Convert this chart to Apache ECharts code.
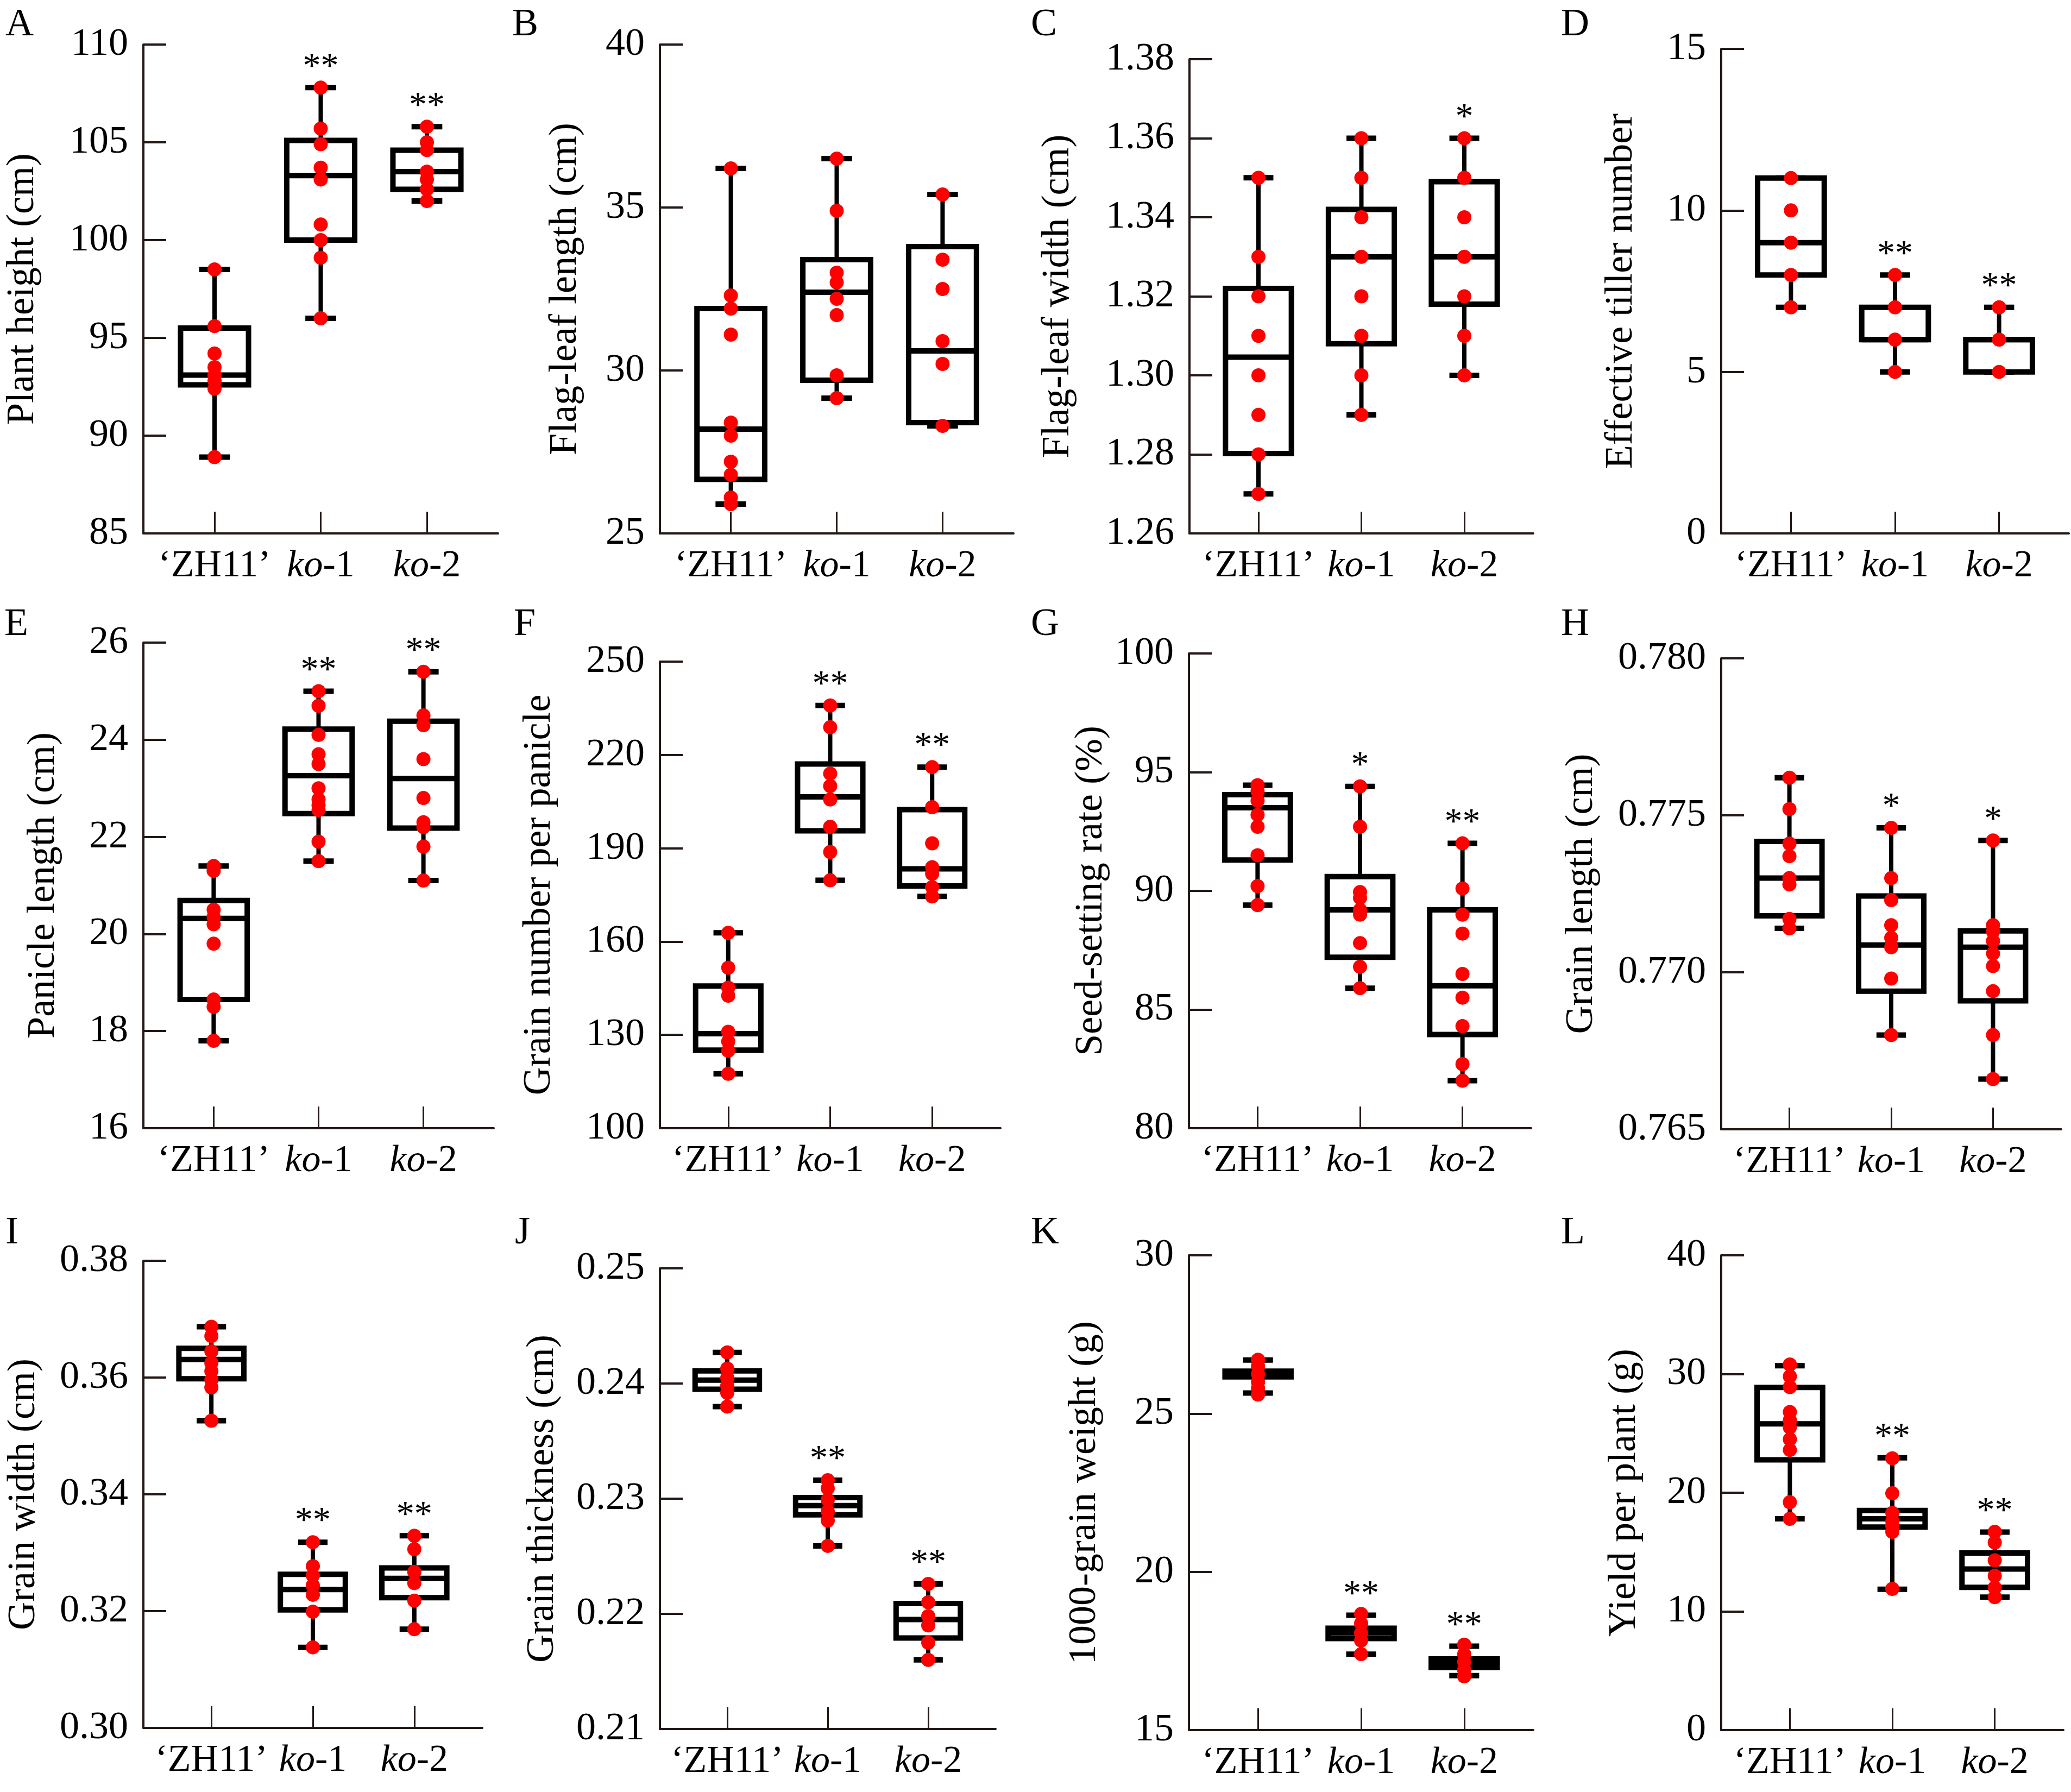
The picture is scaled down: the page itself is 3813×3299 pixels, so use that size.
<!DOCTYPE html>
<html>
<head>
<meta charset="utf-8">
<title>Agronomic traits of ZH11 and knockout lines</title>
<script src="https://cdn.jsdelivr.net/npm/echarts@6/dist/echarts.min.js"></script>
<style>
  html, body { margin: 0; padding: 0; background: #fff; }
  #chart { width: 3813px; height: 3299px; }
</style>
</head>
<body>
<div id="chart"></div>
<script>
const groups = ['‘ZH11’', 'ko-1', 'ko-2']

// box stats per group: [min, q1, median, q3, max]
const heightPts = [
  [98.5, 95.6, 94.2, 93.5, 93.1, 92.8, 92.4, 88.9],
  [107.8, 105.7, 104.9, 103.7, 103.1, 100.8, 100.0, 99.1, 96.0],
  [105.8, 105.0, 104.6, 103.5, 103.1, 102.6, 102.0]
]
const heightBox = [[88.9, 92.6, 93.1, 95.5, 98.5], [96.0, 100.0, 103.3, 105.1, 107.8], [102.0, 102.6, 103.5, 104.6, 105.8]]
const heightSig = ['', '**', '**']

const flagLenPts = [
  [36.2, 32.3, 31.9, 31.1, 28.4, 28.0, 27.2, 26.8, 26.1, 25.9],
  [36.5, 34.9, 33.0, 32.7, 32.2, 31.7, 29.85, 29.15],
  [35.4, 33.4, 32.5, 30.9, 30.2, 28.3]
]
const flagLenBox = [[25.9, 26.66, 28.2, 31.9, 36.2], [29.15, 29.7, 32.4, 33.4, 36.5], [28.3, 28.4, 30.6, 33.8, 35.4]]
const flagLenSig = ['', '', '']

const flagWidPts = [
  [1.35, 1.33, 1.32, 1.31, 1.30, 1.29, 1.28, 1.27],
  [1.36, 1.35, 1.34, 1.33, 1.32, 1.31, 1.30, 1.29],
  [1.36, 1.35, 1.34, 1.33, 1.32, 1.31, 1.30]
]
const flagWidBox = [[1.27, 1.2802, 1.3046, 1.322, 1.35], [1.29, 1.308, 1.33, 1.342, 1.36], [1.30, 1.318, 1.33, 1.349, 1.36]]
const flagWidSig = ['', '', '*']

const tillerPts = [[11, 10, 9, 8, 7], [8, 7, 6, 5], [7, 6, 5]]
const tillerBox = [[7, 8, 9, 11, 11], [5, 6, 6, 7, 8], [5, 5, 6, 6, 7]]
const tillerSig = ['', '**', '**']

const panLenPts = [
  [21.4, 21.3, 20.5, 20.35, 20.2, 19.8, 18.65, 18.5, 17.8],
  [25.0, 24.7, 24.1, 23.7, 23.5, 23.0, 22.77, 22.65, 22.55, 21.9, 21.5],
  [25.4, 24.5, 24.3, 23.6, 22.8, 22.3, 22.2, 21.8, 21.1]
]
const panLenBox = [[17.8, 18.65, 20.32, 20.69, 21.4], [21.5, 22.48, 23.26, 24.22, 25.0], [21.1, 22.18, 23.2, 24.38, 25.4]]
const panLenSig = ['', '**', '**']

const grainNumPts = [
  [162.8, 151.6, 145.2, 142.6, 131.0, 127.9, 124.9, 117.5],
  [235.9, 228.9, 214, 210, 205.7, 196.9, 188.8, 179.7],
  [216.1, 203.2, 191.6, 183.9, 181.8, 177.5, 174.5]
]
const grainNumBox = [[117.5, 125.1, 130.4, 145.7, 162.8], [179.7, 195.6, 206.5, 217.1, 235.9], [174.5, 177.9, 183.4, 202.4, 216.1]]
const grainNumSig = ['', '**', '**']

const seedSetPts = [
  [94.45, 94.2, 93.8, 93.2, 92.7, 91.5, 90.2, 89.4],
  [94.4, 92.7, 89.95, 89.7, 89.2, 89.0, 87.8, 86.8, 85.9],
  [92.0, 90.1, 89.0, 88.2, 86.5, 85.5, 84.3, 82.7, 82.0]
]
const seedSetBox = [[89.4, 91.3, 93.5, 94.05, 94.45], [85.9, 87.2, 89.2, 90.6, 94.4], [82.0, 83.95, 86.0, 89.2, 92.0]]
const seedSetSig = ['', '*', '**']

const grainLenPts = [
  [0.7762, 0.7752, 0.7741, 0.7737, 0.7730, 0.7728, 0.7717, 0.7714],
  [0.7746, 0.7730, 0.7723, 0.7715, 0.7711, 0.7708, 0.7698, 0.7680],
  [0.7742, 0.7715, 0.7713, 0.7710, 0.7706, 0.7702, 0.7694, 0.7680, 0.7666]
]
const grainLenBox = [[0.7714, 0.7718, 0.7730, 0.77417, 0.7762], [0.7680, 0.7694, 0.77087, 0.77243, 0.7746], [0.7666, 0.76909, 0.7708, 0.77132, 0.7742]]
const grainLenSig = ['', '*', '*']

const grainWidPts = [
  [0.3687, 0.3671, 0.3645, 0.3625, 0.3611, 0.3596, 0.3583, 0.3526],
  [0.3318, 0.3277, 0.3261, 0.3244, 0.3228, 0.3199, 0.3138],
  [0.3329, 0.3306, 0.3267, 0.3248, 0.3218, 0.3169]
]
const grainWidBox = [[0.3526, 0.3598, 0.3631, 0.3650, 0.3687], [0.3138, 0.3202, 0.3237, 0.3263, 0.3318], [0.3169, 0.3223, 0.3256, 0.3274, 0.3329]]
const grainWidSig = ['', '**', '**']

const grainThkPts = [
  [0.2427, 0.2413, 0.2405, 0.2398, 0.2392, 0.2380],
  [0.2316, 0.2309, 0.2299, 0.2289, 0.2281, 0.2259],
  [0.2226, 0.2210, 0.2198, 0.2190, 0.2175, 0.2160]
]
const grainThkBox = [[0.2380, 0.2395, 0.2403, 0.2411, 0.2427], [0.2259, 0.2286, 0.2294, 0.2301, 0.2316], [0.2160, 0.2179, 0.2195, 0.2209, 0.2226]]
const grainThkSig = ['', '**', '**']

const tgwPts = [
  [26.7, 26.5, 26.25, 26.0, 25.8, 25.6],
  [18.67, 18.37, 18.07, 17.83, 17.4],
  [17.7, 17.4, 17.16, 16.9, 16.7]
]
const tgwBox = [[25.65, 26.16, 26.27, 26.34, 26.69], [17.4, 17.89, 18.07, 18.22, 18.63], [16.72, 16.98, 17.13, 17.25, 17.65]]
const tgwSig = ['', '**', '**']

const yieldPts = [
  [30.8, 29.8, 28.9, 26.8, 26.1, 25.5, 24.5, 23.6, 19.2, 17.8],
  [22.9, 19.95, 18.3, 17.6, 17.2, 16.7, 11.9],
  [16.7, 15.8, 14.3, 13.0, 12.0, 11.2]
]
const yieldBox = [[17.8, 22.77, 25.8, 28.87, 30.7], [11.87, 17.1, 17.8, 18.5, 22.94], [11.2, 12.03, 13.57, 14.92, 16.68]]
const yieldSig = ['', '**', '**']

// y tick labels
const heightTicks = [85, 90, 95, 100, 105, 110]
const flagLenTicks = [25, 30, 35, 40]
const flagWidTicks = [1.26, 1.28, 1.30, 1.32, 1.34, 1.36, 1.38]
const tillerTicks = [0, 5, 10, 15]
const panLenTicks = [16, 18, 20, 22, 24, 26]
const grainNumTicks = [100, 130, 160, 190, 220, 250]
const seedSetTicks = [80, 85, 90, 95, 100]
const grainLenTicks = [0.765, 0.770, 0.775, 0.780]
const grainWidTicks = [0.30, 0.32, 0.34, 0.36, 0.38]
const grainThkTicks = [0.21, 0.22, 0.23, 0.24, 0.25]
const tgwTicks = [15, 20, 25, 30]
const yieldTicks = [0, 10, 20, 30, 40]

const panels = [
  { tag: 'A', name: 'Plant height (cm)', pts: heightPts, box: heightBox, sig: heightSig, ticks: heightTicks, dec: 0 },
  { tag: 'B', name: 'Flag-leaf length (cm)', pts: flagLenPts, box: flagLenBox, sig: flagLenSig, ticks: flagLenTicks, dec: 0 },
  { tag: 'C', name: 'Flag-leaf width (cm)', pts: flagWidPts, box: flagWidBox, sig: flagWidSig, ticks: flagWidTicks, dec: 2 },
  { tag: 'D', name: 'Effective tiller number', pts: tillerPts, box: tillerBox, sig: tillerSig, ticks: tillerTicks, dec: 0 },
  { tag: 'E', name: 'Panicle length (cm)', pts: panLenPts, box: panLenBox, sig: panLenSig, ticks: panLenTicks, dec: 0 },
  { tag: 'F', name: 'Grain number per panicle', pts: grainNumPts, box: grainNumBox, sig: grainNumSig, ticks: grainNumTicks, dec: 0 },
  { tag: 'G', name: 'Seed-setting rate (%)', pts: seedSetPts, box: seedSetBox, sig: seedSetSig, ticks: seedSetTicks, dec: 0 },
  { tag: 'H', name: 'Grain length (cm)', pts: grainLenPts, box: grainLenBox, sig: grainLenSig, ticks: grainLenTicks, dec: 3 },
  { tag: 'I', name: 'Grain width (cm)', pts: grainWidPts, box: grainWidBox, sig: grainWidSig, ticks: grainWidTicks, dec: 2 },
  { tag: 'J', name: 'Grain thickness (cm)', pts: grainThkPts, box: grainThkBox, sig: grainThkSig, ticks: grainThkTicks, dec: 2 },
  { tag: 'K', name: '1000-grain weight (g)', pts: tgwPts, box: tgwBox, sig: tgwSig, ticks: tgwTicks, dec: 0 },
  { tag: 'L', name: 'Yield per plant (g)', pts: yieldPts, box: yieldBox, sig: yieldSig, ticks: yieldTicks, dec: 0 }
]

// layout: [left, top, width, height, nameGap, tagX, tagY]
const layout = [
  [264, 82, 653, 900, 186, 10, 10],
  [1215, 82, 651, 900, 138, 943, 10],
  [2190, 109, 633, 873, 206, 1898, 10],
  [3169, 90, 640, 892, 148, 2874, 10],
  [264, 1183, 645, 894, 148, 8, 1114],
  [1215, 1218, 627, 859, 186, 946, 1114],
  [2189, 1203, 630, 874, 144, 1898, 1114],
  [3169, 1212, 626, 867, 221, 2874, 1114],
  [264, 2321, 624, 860, 184, 10, 2234],
  [1215, 2335, 618, 848, 180, 948, 2234],
  [2189, 2311, 634, 874, 156, 1898, 2234],
  [3169, 2311, 630, 874, 142, 2874, 2234]
]

const FONT = 'Liberation Serif'
const AXIS_COLOR = '#231815'

function xLabel(v) {
  const g = groups[Math.round(v) - 1]
  if (!g) return ''
  if (g.indexOf('ko') === 0) return '{i|ko}{n|' + g.slice(2) + '}'
  return '{n|' + g + '}'
}

function renderBox(params, api) {
  const x = api.value(0)
  const lo = api.coord([x, api.value(1)])
  const q1 = api.coord([x, api.value(2)])
  const md = api.coord([x, api.value(3)])
  const q3 = api.coord([x, api.value(4)])
  const hi = api.coord([x, api.value(5)])
  const step = api.size([1, 0])[0]
  const bw = step * 0.64
  const cw = step * 0.29
  const cx = lo[0]
  const line = (x1, y1, x2, y2, w) => ({
    type: 'line',
    shape: { x1, y1, x2, y2 },
    style: { stroke: '#000', lineWidth: w }
  })
  return {
    type: 'group',
    children: [
      line(cx, hi[1], cx, q3[1], 8),
      line(cx, q1[1], cx, lo[1], 8),
      line(cx - cw / 2, hi[1], cx + cw / 2, hi[1], 10),
      line(cx - cw / 2, lo[1], cx + cw / 2, lo[1], 10),
      {
        type: 'rect',
        shape: { x: cx - bw / 2, y: q3[1], width: bw, height: q1[1] - q3[1] },
        style: { fill: '#fff', stroke: '#000', lineWidth: 10 }
      },
      line(cx - bw / 2, md[1], cx + bw / 2, md[1], 10)
    ]
  }
}

function starRenderer(sig) {
  return function (params, api) {
    const pt = api.coord([api.value(0), api.value(1)])
    return {
      type: 'text',
      x: pt[0],
      y: pt[1] - 4,
      style: {
        text: sig[params.dataIndex],
        font: '66px ' + FONT,
        fill: '#000',
        align: 'center',
        verticalAlign: 'bottom'
      }
    }
  }
}

const grid = []
const xAxis = []
const yAxis = []
const series = []
const graphic = []

panels.forEach((p, k) => {
  const [left, top, width, height, gap, tx, ty] = layout[k]
  grid.push({ left, top, width, height, containLabel: false })
  xAxis.push({
    gridIndex: k,
    type: 'value',
    min: 0.33,
    max: 3.67,
    axisLine: { lineStyle: { color: AXIS_COLOR, width: 4 } },
    axisTick: { inside: true, length: 40, customValues: [1, 2, 3], lineStyle: { color: AXIS_COLOR, width: 3 } },
    splitLine: { show: false },
    axisLabel: {
      customValues: [1, 2, 3],
      margin: 26,
      formatter: xLabel,
      rich: {
        n: { fontFamily: FONT, fontSize: 70, color: '#000' },
        i: { fontFamily: FONT, fontSize: 70, fontStyle: 'italic', color: '#000' }
      }
    }
  })
  yAxis.push({
    gridIndex: k,
    type: 'value',
    min: p.ticks[0],
    max: p.ticks[p.ticks.length - 1],
    name: p.name,
    nameLocation: 'middle',
    nameGap: gap,
    nameTextStyle: { fontFamily: FONT, fontSize: 72, color: '#000' },
    axisLine: { show: true, lineStyle: { color: AXIS_COLOR, width: 4 } },
    axisTick: { show: true, inside: true, length: 42, customValues: p.ticks, lineStyle: { color: AXIS_COLOR, width: 4 } },
    splitLine: { show: false },
    axisLabel: {
      customValues: p.ticks,
      margin: 28,
      fontFamily: FONT,
      fontSize: 72,
      color: '#000',
      formatter: v => Number(v).toFixed(p.dec)
    }
  })
  series.push({
    type: 'custom',
    xAxisIndex: k,
    yAxisIndex: k,
    renderItem: renderBox,
    encode: { x: 0, y: [1, 2, 3, 4, 5] },
    data: p.box.map((b, i) => [i + 1].concat(b)),
    z: 2
  })
  const dots = []
  p.pts.forEach((arr, i) => arr.forEach(v => dots.push([i + 1, v])))
  series.push({
    type: 'scatter',
    xAxisIndex: k,
    yAxisIndex: k,
    symbolSize: 26,
    itemStyle: { color: '#ff0000', opacity: 1 },
    data: dots,
    z: 3
  })
  series.push({
    type: 'custom',
    xAxisIndex: k,
    yAxisIndex: k,
    renderItem: starRenderer(p.sig),
    encode: { x: 0, y: 1 },
    data: p.box.map((b, i) => [i + 1, b[4]]),
    z: 4
  })
  graphic.push({
    type: 'text',
    left: tx,
    top: ty,
    style: { text: p.tag, font: '72px ' + FONT, fill: '#000' }
  })
})

const chart = echarts.init(document.getElementById('chart'), null, { renderer: 'canvas' })
chart.setOption({
  animation: false,
  backgroundColor: '#fff',
  grid,
  xAxis,
  yAxis,
  series,
  graphic
})
</script>
</body>
</html>
